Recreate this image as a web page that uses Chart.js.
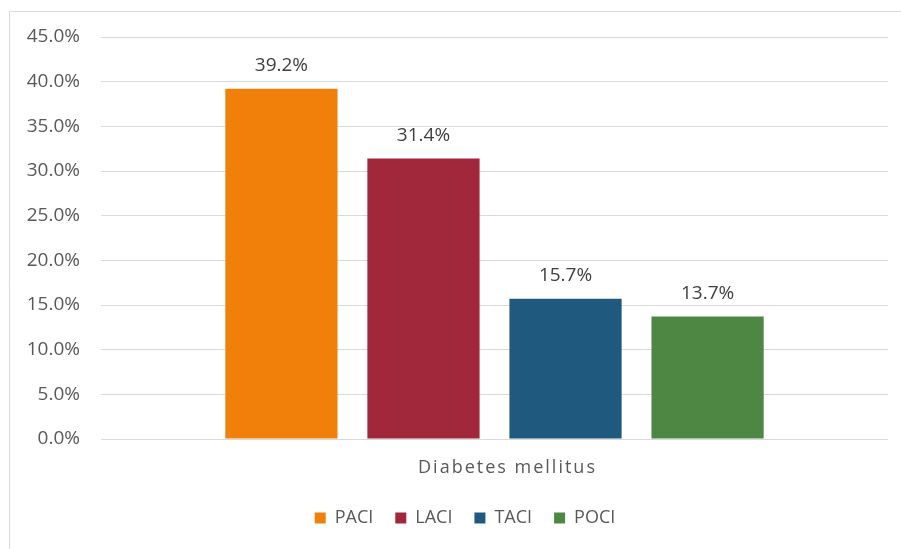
<!DOCTYPE html>
<html>
<head>
<meta charset="utf-8">
<script src="https://cdn.jsdelivr.net/npm/chart.js@4.4.1/dist/chart.umd.min.js"></script>
<style>
  html, body { margin: 0; padding: 0; background: #ffffff; }
  #wrap { width: 901px; height: 549px; position: relative; }
</style>
</head>
<body>
<div id="wrap"><canvas id="c" width="901" height="549"></canvas></div>
<script>
// Share of each stroke subtype among patients with diabetes mellitus (%)
const categories = ['Diabetes mellitus'];
const seriesNames = ['PACI', 'LACI', 'TACI', 'POCI'];
const seriesValues = [[39.2], [31.4], [15.7], [13.7]];
const seriesColors = ['#F0800A', '#A1283A', '#1F5A7E', '#4E8744'];
const yTicks = [0, 5, 10, 15, 20, 25, 30, 35, 40, 45];

const FONT = '"Open Sans", "Noto Sans", sans-serif';

// Light frame along the top and left edges of the chart box
const framePlugin = {
  id: 'frame',
  beforeDraw(chart) {
    const ctx = chart.ctx;
    ctx.save();
    ctx.fillStyle = '#ffffff';
    ctx.fillRect(0, 0, chart.width, chart.height);
    ctx.strokeStyle = '#d9d9d9';
    ctx.lineWidth = 1;
    ctx.beginPath();
    ctx.moveTo(9.5, chart.height);
    ctx.lineTo(9.5, 11.5);
    ctx.lineTo(chart.width, 11.5);
    ctx.stroke();
    ctx.restore();
  }
};

// Nudge the legend row a little to the right of the canvas centre
const legendShiftPlugin = {
  id: 'legendShift',
  afterLayout(chart) {
    const lg = chart.legend;
    if (lg) { lg.left += 21; lg.right += 21; }
  }
};

// Percentage labels above each bar, and the spaced-out category name
const labelPlugin = {
  id: 'labels',
  afterDatasetsDraw(chart) {
    const ctx = chart.ctx;
    ctx.save();
    ctx.font = '19px ' + FONT;
    ctx.fillStyle = '#404040';
    ctx.textAlign = 'center';
    ctx.textBaseline = 'middle';
    chart.data.datasets.forEach((ds, i) => {
      const meta = chart.getDatasetMeta(i);
      meta.data.forEach((bar, j) => {
        ctx.fillText(ds.data[j].toFixed(1) + '%', bar.x, bar.y - 23);
      });
    });
    const xs = chart.scales.x;
    ctx.font = '18px ' + FONT;
    ctx.fillStyle = '#595959';
    ctx.letterSpacing = '2px';
    categories.forEach((cat, j) => {
      ctx.fillText(cat, xs.getPixelForValue(j) + 13, xs.top + 29);
    });
    ctx.restore();
  }
};

new Chart(document.getElementById('c'), {
  type: 'bar',
  data: {
    labels: categories,
    datasets: seriesNames.map((name, i) => ({
      label: name,
      data: seriesValues[i],
      backgroundColor: seriesColors[i],
      borderWidth: 0,
      categoryPercentage: 0.722,
      barPercentage: 0.79
    }))
  },
  options: {
    responsive: false,
    animation: false,
    devicePixelRatio: 1,
    layout: { padding: { left: 0, right: 13, top: 37, bottom: 12 } },
    scales: {
      x: {
        grid: { display: false },
        border: { display: false },
        ticks: { display: false },
        afterFit(scale) { scale.height = 48; }
      },
      y: {
        min: 0,
        max: 45,
        afterBuildTicks(scale) { scale.ticks = yTicks.map(v => ({ value: v })); },
        afterFit(scale) { scale.width = 101; },
        grid: { color: '#d9d9d9', lineWidth: 1, drawTicks: false },
        border: { display: false },
        ticks: {
          padding: 21,
          color: '#595959',
          font: { family: FONT, size: 19 },
          callback: v => v.toFixed(1) + '%'
        }
      }
    },
    plugins: {
      legend: {
        position: 'bottom',
        labels: {
          boxWidth: 11,
          boxHeight: 11,
          padding: 22,
          color: '#595959',
          font: { family: FONT, size: 18 }
        }
      },
      tooltip: { enabled: false }
    }
  },
  plugins: [framePlugin, legendShiftPlugin, labelPlugin]
});
</script>
</body>
</html>
